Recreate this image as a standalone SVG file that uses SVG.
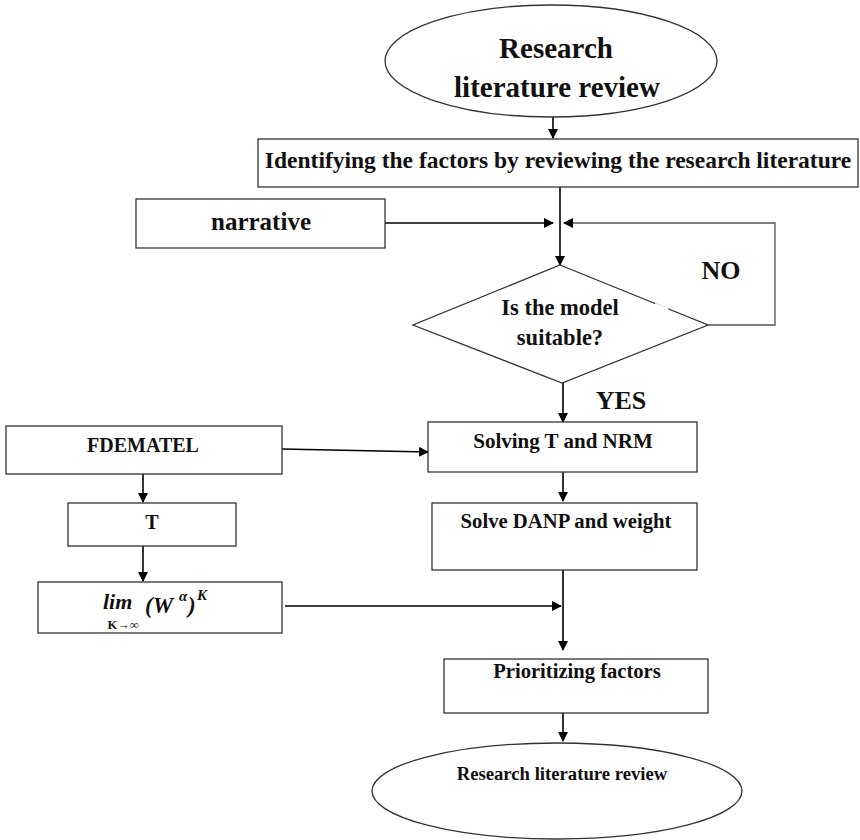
<svg xmlns="http://www.w3.org/2000/svg" width="860" height="840" viewBox="0 0 860 840">
<defs>
<style>
.box{fill:#fff;stroke:#333;stroke-width:1.3}
.ln{fill:none;stroke:#000;stroke-width:1.6}
.lg{fill:none;stroke:#555;stroke-width:1.3}
text{font-family:"Liberation Serif","Times New Roman",serif;font-weight:bold;fill:#111;text-anchor:middle}
.st{text-anchor:start;font-style:italic}
</style>
<marker id="ah" markerWidth="10" markerHeight="10" refX="9" refY="5" orient="auto" markerUnits="userSpaceOnUse">
<path d="M0,0 L10,5 L0,10 z" fill="#000"/>
</marker>
</defs>
<rect width="860" height="840" fill="#fff"/>

<g id="connectors">
<path class="ln" d="M553,105 V138" marker-end="url(#ah)"/>
<path class="ln" d="M560,187 V265" marker-end="url(#ah)"/>
<path class="ln" d="M385,223 H553" marker-end="url(#ah)"/>
<path class="lg" d="M708,325 H775 V223 H564" marker-end="url(#ah)"/>
<path class="ln" d="M563,383 V422" marker-end="url(#ah)"/>
<path class="ln" d="M282,449 L428,452" marker-end="url(#ah)"/>
<path class="ln" d="M563,472 V501" marker-end="url(#ah)"/>
<path class="ln" d="M563,570 V650" marker-end="url(#ah)"/>
<path class="ln" d="M285,606 H561" marker-end="url(#ah)"/>
<path class="ln" d="M563,713 V741" marker-end="url(#ah)"/>
<path class="ln" d="M143,474 V502" marker-end="url(#ah)"/>
<path class="ln" d="M143,546 V581" marker-end="url(#ah)"/>
</g>

<g id="start">
<ellipse class="box" cx="551" cy="61" rx="166" ry="56"/>
<text x="556" y="58" font-size="29">Research</text>
<text x="557" y="97" font-size="29">literature review</text>
</g>

<g id="identify">
<rect class="box" x="258" y="139" width="600" height="48"/>
<text x="558" y="168" font-size="23.5">Identifying the factors by reviewing the research literature</text>
</g>

<g id="narrative">
<rect class="box" x="136" y="199" width="249" height="49"/>
<text x="261" y="230" font-size="25">narrative</text>
</g>

<g id="decision">
<polygon class="box" points="560,265 708,325 562,383 413,325"/>
<line x1="655" y1="304" x2="668" y2="309" stroke="#fff" stroke-width="2"/>
<text x="560" y="315" font-size="22.5">Is the model</text>
<text x="560" y="345" font-size="22.5">suitable?</text>
</g>

<g id="labels">
<text x="721" y="279" font-size="26">NO</text>
<text x="621" y="409" font-size="26">YES</text>
</g>

<g id="solving">
<rect class="box" x="428" y="422" width="269" height="50"/>
<text x="563" y="448" font-size="21">Solving T and NRM</text>
</g>

<g id="danp">
<rect class="box" x="432" y="503" width="265" height="67"/>
<text x="566" y="528" font-size="20.7">Solve DANP and weight</text>
</g>

<g id="prioritizing">
<rect class="box" x="444" y="659" width="264" height="54"/>
<text x="577" y="678" font-size="20.6">Prioritizing  factors</text>
</g>

<g id="end">
<ellipse class="box" cx="557" cy="791" rx="185" ry="48"/>
<text x="562" y="780" font-size="18.7">Research literature  review</text>
</g>

<g id="fdematel">
<rect class="box" x="6" y="426" width="276" height="48"/>
<text x="143" y="452" font-size="20">FDEMATEL</text>
</g>

<g id="t">
<rect class="box" x="68" y="503" width="168" height="43"/>
<text x="152" y="529" font-size="20">T</text>
</g>

<g id="lim">
<rect class="box" x="38" y="582" width="244" height="51"/>
<text class="st" x="103" y="609" font-size="22">lim</text>
<text x="123" y="629" font-size="12.5">K→∞</text>
<text class="st" x="145" y="613" font-size="23">(W</text>
<text class="st" x="179" y="601" font-size="15">α</text>
<text class="st" x="188" y="613" font-size="23">)</text>
<text class="st" x="197" y="600" font-size="15">K</text>
</g>
</svg>
